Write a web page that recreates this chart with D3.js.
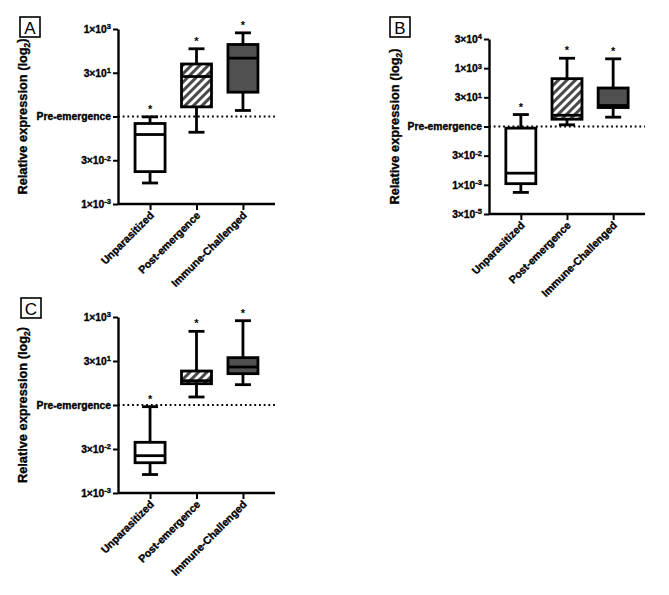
<!DOCTYPE html>
<html>
<head>
<meta charset="utf-8">
<script src="https://cdn.jsdelivr.net/npm/d3@7"></script>
<style>
  html, body { margin: 0; padding: 0; background: #fff; }
  svg { display: block; }
  text { font-family: "Liberation Sans", Arial, sans-serif; }
  .heavy { stroke: #000; stroke-width: 0.35px; }
</style>
</head>
<body>
<div id="chart"></div>
<script>
// ---- Data (values in log2 units: [min, q1, median, q3, max]) ----
const categories = ["Unparasitized", "Post-emergence", "Immune-Challenged"];

const panelA = [
  [-7.6, -6.3, -2.06, -0.8, -0.04],
  [-1.8, 1.1, 4.57, 6.0, 7.74],
  [0.69, 2.78, 6.67, 8.23, 9.56]
];
const panelB = [
  [-11.3, -9.8, -8.0, -0.28, 2.05],
  [0.29, 1.25, 1.93, 8.2, 11.7],
  [1.6, 3.25, 3.6, 6.6, 11.6]
];
const panelC = [
  [-7.9, -6.56, -5.76, -4.24, -0.19],
  [0.91, 2.42, 2.76, 3.86, 8.37],
  [2.31, 3.56, 4.32, 5.38, 9.58]
];

const yTicksAC = [-10, -5, 0, 5, 10];
const yLabelsAC = ["1×10^-3", "3×10^-2", "Pre-emergence", "3×10^1", "1×10^3"];
const yTicksB = [-15, -10, -5, 0, 5, 10, 15];
const yLabelsB = ["3×10^-5", "1×10^-3", "3×10^-2", "Pre-emergence", "3×10^1", "1×10^3", "3×10^4"];

const panelLetters = ["A", "B", "C"];
const yTitle = "Relative expression (log";
const referenceLevel = 0; // Pre-emergence = 2^0

// ---- Layout ----
const W = 669, H = 595;
const svg = d3.select("#chart").append("svg").attr("width", W).attr("height", H);

const defs = svg.append("defs");
const pat = defs.append("pattern")
  .attr("id", "hatch").attr("patternUnits", "userSpaceOnUse")
  .attr("width", 6).attr("height", 6)
  .attr("patternTransform", "rotate(45)");
pat.append("rect").attr("width", 6).attr("height", 6).attr("fill", "#fff");
pat.append("rect").attr("width", 3).attr("height", 6).attr("fill", "#4a4a4a");

const fills = ["#ffffff", "url(#hatch)", "#505050"];

const layouts = [
  { data: panelA, ticks: yTicksAC, labels: yLabelsAC, dom: [-10, 10], x0: 118, x1: 275, yTop: 29, yBot: 204, titleX: 27, letter: [20, 17] },
  { data: panelB, ticks: yTicksB, labels: yLabelsB, dom: [-15, 15], x0: 489, x1: 645, yTop: 39, yBot: 214, titleX: 399, letter: [390, 17] },
  { data: panelC, ticks: yTicksAC, labels: yLabelsAC, dom: [-10, 10], x0: 118, x1: 275, yTop: 317, yBot: 493, titleX: 27, letter: [21, 298] }
];

function supLabel(textSel, str) {
  textSel.text(null);
  const parts = str.split("^");
  textSel.append("tspan").text(parts[0]);
  if (parts.length > 1) {
    textSel.append("tspan").attr("font-size", 7.5).attr("dy", "-0.45em").text(parts[1]);
  }
}

layouts.forEach((L, pi) => {
  const g = svg.append("g");
  const y = d3.scaleLinear().domain(L.dom).range([L.yBot, L.yTop]);
  const x = d3.scalePoint().domain(categories).range([L.x0, L.x1]).padding(0.69);

  // panel letter
  const lg = g.append("g").attr("transform", `translate(${L.letter[0]},${L.letter[1]})`);
  lg.append("rect").attr("x", 0).attr("y", 0).attr("width", 20).attr("height", 20)
    .attr("fill", "none").attr("stroke", "#000").attr("stroke-width", 1.6);
  lg.append("text").attr("x", 10).attr("y", 16.5).attr("text-anchor", "middle")
    .attr("font-size", 17).text(panelLetters[pi]);

  // reference dotted line
  g.append("line")
    .attr("x1", L.x0).attr("x2", L.x1)
    .attr("y1", y(referenceLevel)).attr("y2", y(referenceLevel))
    .attr("stroke", "#000").attr("stroke-width", 1.8)
    .attr("stroke-dasharray", "1.8,2.9");

  // y axis
  const yAxis = d3.axisLeft(y).tickValues(L.ticks).tickSize(5).tickSizeOuter(0).tickPadding(2);
  const ya = g.append("g").attr("transform", `translate(${L.x0},0)`).call(yAxis);
  ya.select(".domain").attr("stroke-width", 2.4);
  ya.selectAll(".tick line").attr("stroke-width", 2);
  ya.selectAll(".tick text")
    .attr("class", "heavy")
    .attr("font-size", 10.3).attr("font-weight", "bold")
    .attr("font-family", "Liberation Sans, Arial, sans-serif")
    .each(function (d) { supLabel(d3.select(this), L.labels[L.ticks.indexOf(d)]); });

  // x axis
  const xAxis = d3.axisBottom(x).tickSize(6).tickSizeOuter(0);
  const xa = g.append("g").attr("transform", `translate(0,${L.yBot})`).call(xAxis);
  xa.select(".domain").attr("stroke-width", 2.4).attr("d", `M${L.x0},0H${L.x1}`);
  xa.selectAll(".tick line").attr("stroke-width", 2);
  xa.selectAll(".tick text")
    .attr("class", "heavy")
    .attr("font-size", 10.6).attr("font-weight", "bold")
    .attr("font-family", "Liberation Sans, Arial, sans-serif")
    .attr("x", 0).attr("y", 0).attr("dy", null)
    .attr("text-anchor", "end")
    .attr("transform", "translate(4,12) rotate(-45)");

  // y title
  const t = g.append("text")
    .attr("class", "heavy")
    .attr("transform", `translate(${L.titleX},${(L.yTop + L.yBot) / 2}) rotate(-90)`)
    .attr("text-anchor", "middle").attr("font-size", 12.8).attr("font-weight", "bold");
  t.append("tspan").text(yTitle);
  t.append("tspan").attr("font-size", 8.5).attr("dy", "0.3em").text("2");
  t.append("tspan").attr("dy", "-0.3em").text(")");

  // boxes
  const bw = 30, cw = 16, sw = 2.8;
  L.data.forEach((v, i) => {
    const cx = x(categories[i]);
    const [mn, q1, md, q3, mx] = v;
    const bg = g.append("g");
    // whiskers
    bg.append("line").attr("x1", cx).attr("x2", cx).attr("y1", y(mx)).attr("y2", y(q3))
      .attr("stroke", "#000").attr("stroke-width", sw);
    bg.append("line").attr("x1", cx).attr("x2", cx).attr("y1", y(q1)).attr("y2", y(mn))
      .attr("stroke", "#000").attr("stroke-width", sw);
    bg.append("line").attr("x1", cx - cw / 2).attr("x2", cx + cw / 2).attr("y1", y(mx)).attr("y2", y(mx))
      .attr("stroke", "#000").attr("stroke-width", sw);
    bg.append("line").attr("x1", cx - cw / 2).attr("x2", cx + cw / 2).attr("y1", y(mn)).attr("y2", y(mn))
      .attr("stroke", "#000").attr("stroke-width", sw);
    // box
    bg.append("rect").attr("x", cx - bw / 2).attr("width", bw)
      .attr("y", y(q3)).attr("height", y(q1) - y(q3))
      .attr("fill", fills[i]).attr("stroke", "#000").attr("stroke-width", sw);
    // median
    bg.append("line").attr("x1", cx - bw / 2).attr("x2", cx + bw / 2).attr("y1", y(md)).attr("y2", y(md))
      .attr("stroke", "#000").attr("stroke-width", sw);
    // asterisk
    bg.append("text").attr("x", cx).attr("y", y(mx) - 4).attr("text-anchor", "middle")
      .attr("font-size", 11).attr("font-weight", "bold").text("*");
  });
});
</script>
</body>
</html>
